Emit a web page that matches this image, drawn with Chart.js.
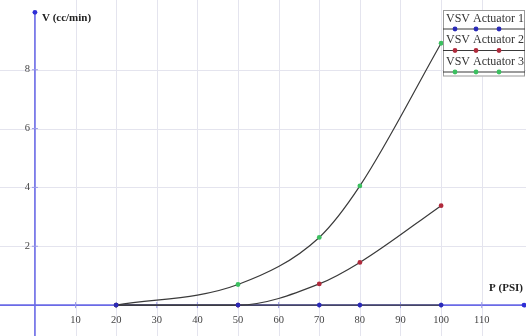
<!DOCTYPE html>
<html>
<head>
<meta charset="utf-8">
<script src="https://cdn.jsdelivr.net/npm/chart.js@4/dist/chart.umd.min.js"></script>
<style>
  html, body { margin: 0; padding: 0; background: #ffffff; }
  #wrap { width: 526px; height: 336px; }
</style>
</head>
<body>
<div id="wrap"><canvas id="c" width="526" height="336"></canvas></div>
<script>
// Pressure readings (PSI) and measured flow (cc/min) for each actuator
const pressures = [20, 50, 70, 80, 100];
const actuator1 = [0, 0, 0, 0, 0];
const actuator2 = [0, 0, 0.72, 1.45, 3.38];
const actuator3 = [0, 0.7, 2.3, 4.05, 8.9];

const seriesNames = ['VSV Actuator 1', 'VSV Actuator 2', 'VSV Actuator 3'];
const pointColors = ['#2a2ab8', '#b02a3c', '#3cc060'];

// Axis tick labels
const xTickLabels = [10, 20, 30, 40, 50, 60, 70, 80, 90, 100, 110];
const yTickLabels = [2, 4, 6, 8];

const xTitle = 'P (PSI)';
const yTitle = 'V (cc/min)';

const LINE = '#3a3a3a';
const AXIS = '#6a6ae6';
const GRID = '#e4e4ee';
const SERIF = '"Liberation Serif", "DejaVu Serif", serif';

function toPoints(values) {
  return pressures.map((p, i) => ({ x: p, y: values[i] }));
}

const seriesValues = [actuator1, actuator2, actuator3];
const datasets = seriesValues.map((vals, i) => ({
  label: seriesNames[i],
  data: toPoints(vals),
  borderColor: LINE,
  borderWidth: 1.2,
  pointBackgroundColor: pointColors[i],
  pointBorderColor: pointColors[i],
  pointRadius: 2.4,
  pointBorderWidth: 0,
  cubicInterpolationMode: 'monotone',
  fill: false
}));

// Grid, blue crossing axes with small tick marks, numbered labels and titles
const axesPlugin = {
  id: 'crossAxes',
  beforeDatasetsDraw(chart) {
    const { ctx, chartArea } = chart;
    const xs = chart.scales.x, ys = chart.scales.y;
    const x0 = xs.getPixelForValue(0);
    const y0 = ys.getPixelForValue(0);
    const yTop = ys.getPixelForValue(9.95);
    ctx.save();

    // light grid
    ctx.strokeStyle = GRID;
    ctx.lineWidth = 1;
    ctx.beginPath();
    xTickLabels.forEach(v => {
      const px = Math.round(xs.getPixelForValue(v)) + 0.5;
      ctx.moveTo(px, chartArea.top);
      ctx.lineTo(px, chartArea.bottom);
    });
    yTickLabels.forEach(v => {
      const py = Math.round(ys.getPixelForValue(v)) + 0.5;
      ctx.moveTo(chartArea.left, py);
      ctx.lineTo(chartArea.right, py);
    });
    ctx.stroke();

    ctx.strokeStyle = AXIS;
    ctx.lineWidth = 1.6;
    ctx.beginPath();
    ctx.moveTo(chartArea.left, y0);
    ctx.lineTo(chartArea.right - 2, y0);
    ctx.moveTo(x0, yTop);
    ctx.lineTo(x0, chartArea.bottom);
    ctx.stroke();

    // tick marks
    ctx.lineWidth = 1;
    ctx.strokeStyle = '#9a9ae8';
    ctx.beginPath();
    xTickLabels.forEach(v => {
      const px = xs.getPixelForValue(v);
      ctx.moveTo(px, y0 - 3);
      ctx.lineTo(px, y0 + 3);
    });
    yTickLabels.forEach(v => {
      const py = ys.getPixelForValue(v);
      ctx.moveTo(x0 - 3, py);
      ctx.lineTo(x0 + 3, py);
    });
    ctx.stroke();

    // axis end markers
    ctx.fillStyle = '#2f2fd6';
    ctx.beginPath();
    ctx.arc(x0, yTop, 2.4, 0, Math.PI * 2);
    ctx.fill();
    ctx.beginPath();
    ctx.arc(chartArea.right - 2, y0, 2.4, 0, Math.PI * 2);
    ctx.fill();

    // tick labels
    ctx.fillStyle = '#444';
    ctx.font = '10.5px ' + SERIF;
    ctx.textAlign = 'center';
    ctx.textBaseline = 'middle';
    xTickLabels.forEach(v => {
      ctx.fillText(String(v), xs.getPixelForValue(v), y0 + 15);
    });
    ctx.textAlign = 'right';
    yTickLabels.forEach(v => {
      ctx.fillText(String(v), x0 - 5, ys.getPixelForValue(v));
    });

    // axis titles
    ctx.fillStyle = '#222';
    ctx.font = 'bold 11px ' + SERIF;
    ctx.textAlign = 'left';
    ctx.fillText(yTitle, x0 + 7, yTop + 6);
    ctx.textAlign = 'right';
    ctx.fillText(xTitle, chartArea.right - 3, y0 - 17);
    ctx.restore();
  }
};

// Boxed legend: name above a sample line carrying three markers
const legendPlugin = {
  id: 'boxLegend',
  afterDraw(chart) {
    const { ctx } = chart;
    const left = 443, top = 10, right = 525, rowH = 21.5;
    const bottom = top + rowH * chart.data.datasets.length + 2;
    ctx.save();
    ctx.fillStyle = '#ffffff';
    ctx.fillRect(left, top, right - left, bottom - top);
    ctx.strokeStyle = '#9a9a9a';
    ctx.lineWidth = 1;
    ctx.strokeRect(left + 0.5, top + 0.5, right - left - 1, bottom - top - 1);
    chart.data.datasets.forEach((ds, i) => {
      const rowTop = top + i * rowH;
      ctx.fillStyle = '#333';
      ctx.font = '12px ' + SERIF;
      ctx.textAlign = 'left';
      ctx.textBaseline = 'middle';
      ctx.fillText(ds.label, left + 3, rowTop + 8.5);
      const ly = rowTop + 19;
      ctx.strokeStyle = LINE;
      ctx.lineWidth = 1.2;
      ctx.beginPath();
      ctx.moveTo(left, ly);
      ctx.lineTo(right, ly);
      ctx.stroke();
      ctx.fillStyle = ds.pointBackgroundColor;
      [455, 476, 499].forEach(px => {
        ctx.beginPath();
        ctx.arc(px, ly, 2.4, 0, Math.PI * 2);
        ctx.fill();
      });
    });
    ctx.restore();
  }
};

new Chart(document.getElementById('c'), {
  type: 'line',
  data: { datasets },
  options: {
    responsive: false,
    devicePixelRatio: 1,
    animation: false,
    layout: { padding: 0, autoPadding: false },
    plugins: { legend: { display: false }, tooltip: { enabled: false } },
    scales: {
      x: { type: 'linear', display: false, min: -8.6, max: 120.9 },
      y: { type: 'linear', display: false, min: -1.05, max: 10.37 }
    }
  },
  plugins: [axesPlugin, legendPlugin]
});
</script>
</body>
</html>
